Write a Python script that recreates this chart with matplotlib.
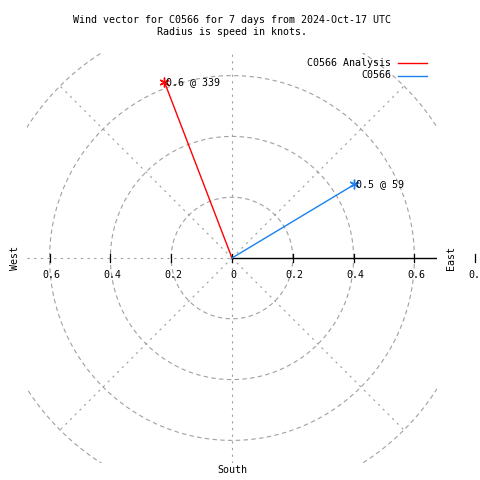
import numpy as np
import matplotlib
matplotlib.use('Agg')
import matplotlib.pyplot as plt
from matplotlib.lines import Line2D

# wind vectors (speed in knots, direction in degrees from north)
series = ['C0566 Analysis', 'C0566']
speed = [0.62, 0.47]
direction = [339, 59]
colors = ['#ff0000', '#1a80f0']

rings = [0.2, 0.4, 0.6, 0.8]
tick_vals = [0.2, 0.4, 0.6, 0.8]
title = 'Wind vector for C0566 for 7 days from 2024-Oct-17 UTC\nRadius is speed in knots.'

plt.rcParams['font.family'] = ['DejaVu Sans Mono']
fs = 7.2
grey = '#a0a0a0'

fig = plt.figure(figsize=(4.8, 4.8), dpi=100)
lim = 205 / 304.0
ax = fig.add_axes([27/480, 17/480, 410/480, 410/480])
ax.set_xlim(-lim, lim)
ax.set_ylim(-lim, lim)
ax.set_aspect('equal')
ax.axis('off')

# grid circles
t = np.linspace(0, 2*np.pi, 400)
for r in rings:
    ax.plot(r*np.cos(t), r*np.sin(t), color=grey, lw=0.8, ls=(0, (4, 3)))

# spokes
for a in [45, 135, 225, 315]:
    ax.plot([0, 0.8*np.cos(np.radians(a))], [0, 0.8*np.sin(np.radians(a))],
            color=grey, lw=0.8, ls=(0, (2, 4)))
ax.plot([0, 0], [-lim, lim], color=grey, lw=0.8, ls=(0, (2, 4)))
ax.plot([-lim, 0], [0, 0], color=grey, lw=0.8, ls=(0, (2, 4)))
ax.plot([0, lim], [0, 0], color='black', lw=1.0)

# ticks and labels
th = 4 / 304.0
ax.plot([0, 0], [-th, th], color='black', lw=0.9)
for v in tick_vals:
    for s in (1, -1):
        if s == -1 and v > 0.6:
            continue
        ax.plot([s*v, s*v], [-th, th], color='black', lw=0.9, clip_on=False)
        ax.text(s*v + 2/304, -17/304, '%g' % v, ha='center', va='center',
                fontsize=fs, clip_on=False)
ax.text(1/304, -17/304, '0', ha='center', va='center', fontsize=fs)

# vectors
for name, s, d, c in zip(series, speed, direction, colors):
    x = s*np.sin(np.radians(d))
    y = s*np.cos(np.radians(d))
    ax.plot([0, x], [0, y], color=c, lw=1.0)
    ax.plot([x], [y], marker=(6, 2, 0), color=c, ms=7, mew=1.0)
    ax.annotate('%.1f @ %d' % (s, d), (x, y), xytext=(0.8, 0),
                textcoords='offset points', ha='left', va='center', fontsize=fs)

# title and compass labels
fig.text(232/480, 1 - 26/480, title, ha='center', va='center', fontsize=fs,
         linespacing=1.25)
fig.text(15/480, 1 - 258/480, 'West', rotation=90, ha='center', va='center', fontsize=fs)
fig.text(451/480, 1 - 258/480, 'East', rotation=90, ha='center', va='center', fontsize=fs)
fig.text(232/480, 1 - 470/480, 'South', ha='center', va='center', fontsize=fs)

# legend
for i, (name, c) in enumerate(zip(series, colors)):
    yy = 1 - (63 + 12.5*i)/480
    fig.text(391/480, yy, name, ha='right', va='center', fontsize=fs)
    fig.add_artist(Line2D([398/480, 427/480], [yy, yy], color=c, lw=1.0))

fig.savefig('out.png', dpi=100)
